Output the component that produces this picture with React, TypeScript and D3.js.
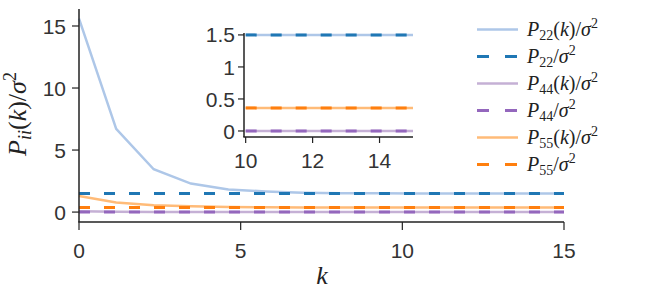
import * as d3 from "d3";

// k grid of the P(k) curves and the values
const kGrid = [0, 1.15, 2.31, 3.46, 4.62, 5.77, 6.92, 8.08, 9.23, 10.38, 11.54, 12.69, 13.85, 15];
const p22k = [15.6, 6.7, 3.45, 2.3, 1.82, 1.66, 1.56, 1.52, 1.51, 1.5, 1.5, 1.5, 1.5, 1.5];
const p44k = [0.06, 0.03, 0.01, 0.005, 0, 0, 0, 0, 0, 0, 0, 0, 0, 0];
const p55k = [1.3, 0.78, 0.56, 0.46, 0.41, 0.39, 0.37, 0.37, 0.36, 0.36, 0.36, 0.36, 0.36, 0.36];
const p22 = 1.5;
const p44 = 0;
const p55 = 0.36;

const xTicks = [0, 5, 10, 15];
const yTicks = [0, 5, 10, 15];
const insetXTicks = [10, 12, 14];
const insetYTicks = [0, 0.5, 1, 1.5];

const series = [
  { key: "22", curve: p22k, level: p22, light: "#aec7e8", dark: "#1f77b4" },
  { key: "44", curve: p44k, level: p44, light: "#c5b0d5", dark: "#9467bd" },
  { key: "55", curve: p55k, level: p55, light: "#ffbb78", dark: "#ff7f0e" },
];

const sans = "Liberation Sans, Arial, sans-serif";
const serif = "Liberation Serif";
const axisColor = "#222";
const tickText = "#333";

const App = () => {
  const x = d3.scaleLinear([0, 15], [79, 564]);
  const y = d3.scaleLinear([-0.8, 16.37], [222, 9]);
  const xi = d3.scaleLinear([9.95, 15], [244, 413]);
  const yi = d3.scaleLinear([-0.094, 1.53], [137, 33]);

  const line = d3.line<number>((d, i) => x(kGrid[i]), (d) => y(d));
  const last = kGrid.length - 1;

  const legendRows = series.flatMap((s) => [
    { s, dashed: false },
    { s, dashed: true },
  ]);

  return (
    <svg width={656} height={290} style={{ position: "absolute", left: 0, top: 0, background: "white" }}>
      {/* main curves */}
      {series.map((s) => (
        <path key={"c" + s.key} d={line(s.curve) ?? ""} fill="none" stroke={s.light} strokeWidth={2.5} />
      ))}
      {series.map((s) => (
        <line key={"l" + s.key} x1={x(0)} x2={x(15)} y1={y(s.level)} y2={y(s.level)}
          stroke={s.dark} strokeWidth={3} strokeDasharray="11,14" />
      ))}

      {/* main axes */}
      <line x1={79} x2={79} y1={9} y2={222} stroke={axisColor} strokeWidth={1.5} />
      <line x1={78.3} x2={564} y1={222} y2={222} stroke={axisColor} strokeWidth={1.5} />
      {yTicks.map((t) => (
        <g key={"yt" + t}>
          <line x1={72} x2={79} y1={y(t)} y2={y(t)} stroke={axisColor} strokeWidth={1.2} />
          <text x={66} y={y(t)} dy="0.36em" textAnchor="end" fontFamily={sans} fontSize={21} fill={tickText}>{t}</text>
        </g>
      ))}
      {xTicks.map((t) => (
        <g key={"xt" + t}>
          <line x1={x(t)} x2={x(t)} y1={222} y2={230} stroke={axisColor} strokeWidth={1.2} />
          <text x={x(t)} y={258} textAnchor="middle" fontFamily={sans} fontSize={21} fill={tickText}>{t}</text>
        </g>
      ))}
      <text x={322} y={284} textAnchor="middle" fontFamily={serif} fontStyle="italic" fontSize={26} fill="#222">k</text>
      <text transform="translate(26,114) rotate(-90)" textAnchor="middle" fontFamily={serif} fontSize={26} fill="#222">
        <tspan fontStyle="italic">P</tspan>
        <tspan fontStyle="italic" fontSize={18} dy={5}>ii</tspan>
        <tspan dy={-5}>(</tspan>
        <tspan fontStyle="italic">k</tspan>
        <tspan>)/</tspan>
        <tspan fontStyle="italic">σ</tspan>
        <tspan fontSize={18} dy={-10}>2</tspan>
      </text>

      {/* inset */}
      {series.map((s) => (
        <line key={"ic" + s.key} x1={xi(10)} x2={xi(15)}
          y1={yi(s.curve[last])} y2={yi(s.curve[last])}
          stroke={s.light} strokeWidth={2.5} />
      ))}
      {series.map((s) => (
        <line key={"il" + s.key} x1={xi(10)} x2={xi(15)} y1={yi(s.level)} y2={yi(s.level)}
          stroke={s.dark} strokeWidth={3} strokeDasharray="11,14" />
      ))}
      <line x1={244} x2={244} y1={33} y2={137} stroke={axisColor} strokeWidth={1.5} />
      <line x1={243.3} x2={413} y1={137} y2={137} stroke={axisColor} strokeWidth={1.5} />
      {insetYTicks.map((t) => (
        <g key={"iyt" + t}>
          <line x1={238} x2={244} y1={yi(t)} y2={yi(t)} stroke={axisColor} strokeWidth={1.2} />
          <text x={235} y={yi(t)} dy="0.36em" textAnchor="end" fontFamily={sans} fontSize={21} fill={tickText}>{t}</text>
        </g>
      ))}
      {insetXTicks.map((t) => (
        <g key={"ixt" + t}>
          <line x1={xi(t)} x2={xi(t)} y1={137} y2={143} stroke={axisColor} strokeWidth={1.2} />
          <text x={xi(t)} y={168} textAnchor="middle" fontFamily={sans} fontSize={21} fill={tickText}>{t}</text>
        </g>
      ))}

      {/* legend */}
      {legendRows.map((r, i) => {
        const yy = 29.5 + i * 27;
        return (
          <g key={"lg" + i}>
            <line x1={477} x2={518} y1={yy} y2={yy} stroke={r.dashed ? r.s.dark : r.s.light}
              strokeWidth={r.dashed ? 3 : 2.5} strokeDasharray={r.dashed ? "12,16" : undefined} />
            <text x={527} y={yy + 6} fontFamily={serif} fontSize={20} fill="#222">
              <tspan fontStyle="italic">P</tspan>
              <tspan fontSize={14} dy={4}>{r.s.key}</tspan>
              {r.dashed ? (
                <>
                  <tspan dy={-4}>/</tspan>
                  <tspan fontStyle="italic">σ</tspan>
                </>
              ) : (
                <>
                  <tspan dy={-4}>(</tspan>
                  <tspan fontStyle="italic">k</tspan>
                  <tspan>)/</tspan>
                  <tspan fontStyle="italic">σ</tspan>
                </>
              )}
              <tspan fontSize={14} dy={-8}>2</tspan>
            </text>
          </g>
        );
      })}
    </svg>
  );
};

export default App;
